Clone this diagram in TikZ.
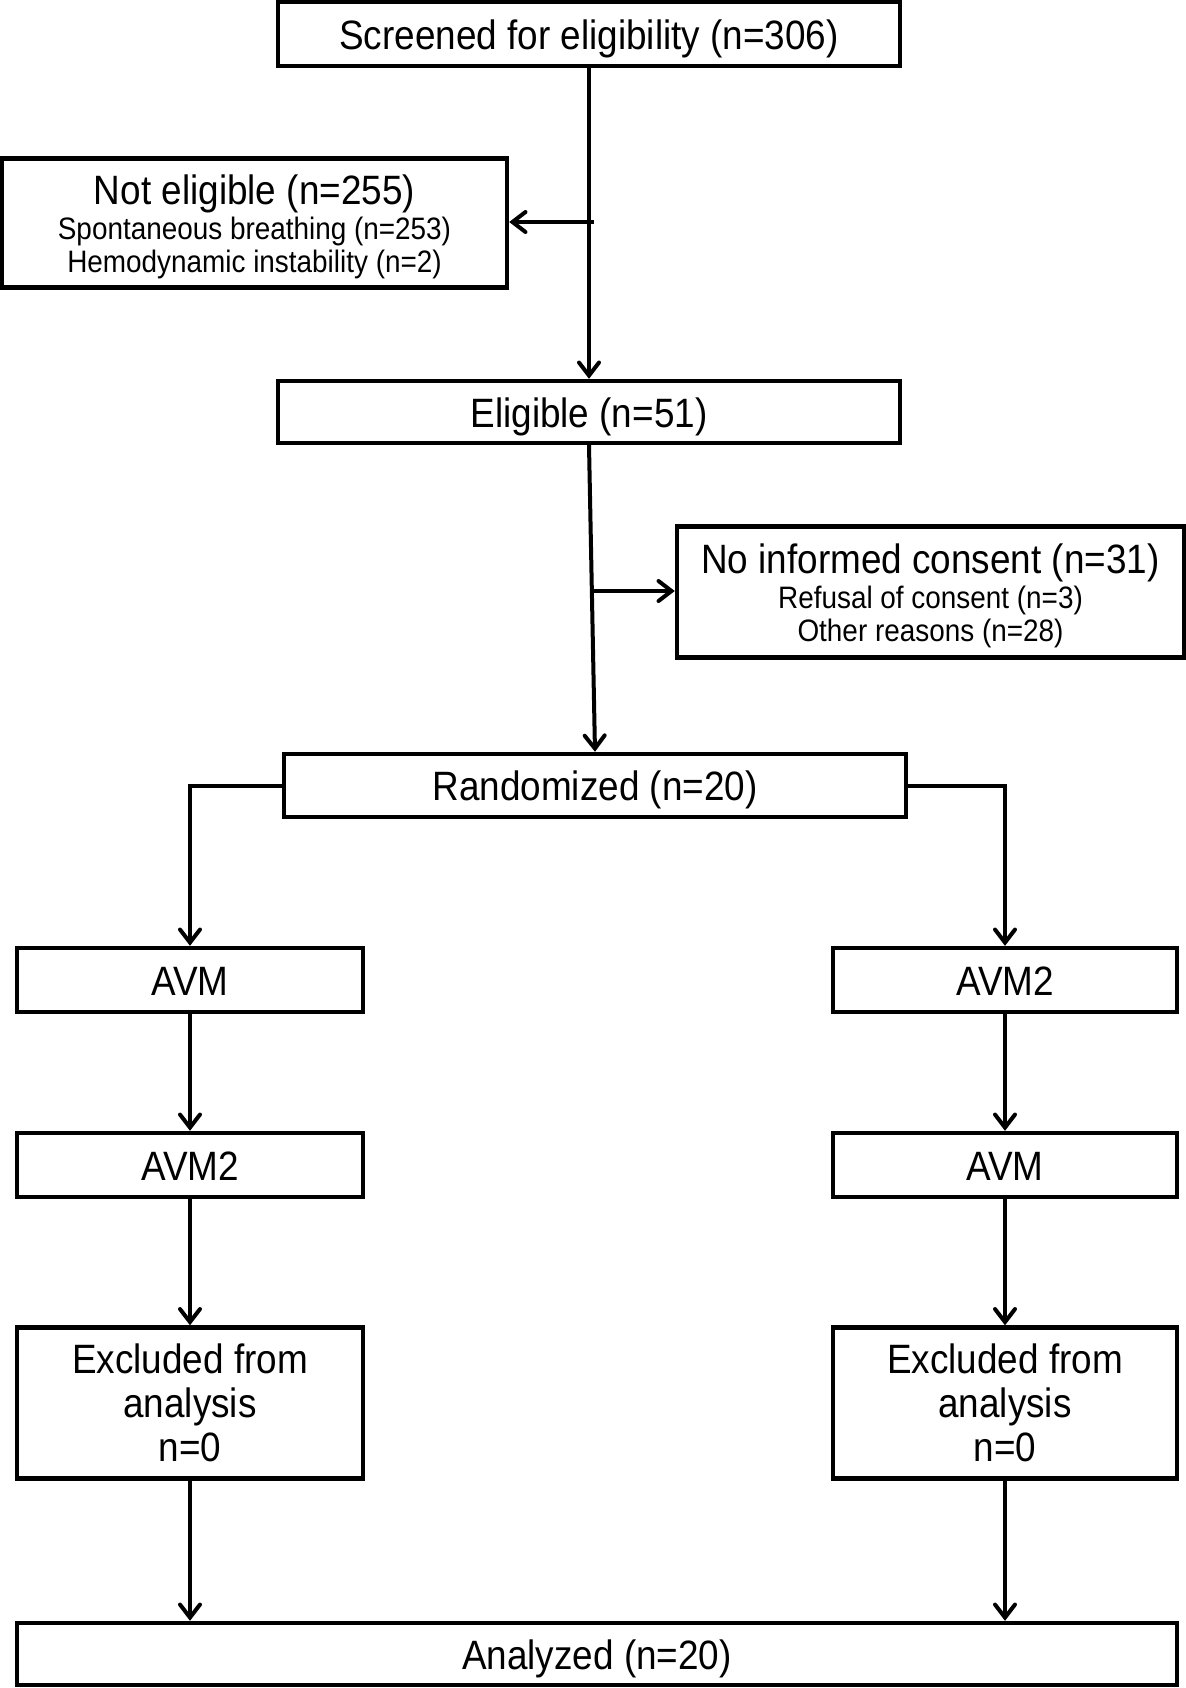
\documentclass[tikz,border=0pt]{standalone}
\usepackage{fontspec}
\setmainfont{Liberation Sans}[FakeStretch=0.9]
\usetikzlibrary{arrows.meta}
\newcommand{\bigtxt}{\fontsize{20.5pt}{22pt}\selectfont}
\newcommand{\smtxt}{\fontsize{15.5pt}{16.5pt}\selectfont}
\begin{document}
\begin{tikzpicture}[x=0.5pt,y=-0.5pt,
  box/.style={draw, line width=2.2pt, inner sep=0pt, align=center, font=\bigtxt},
  one/.style={text height=15pt, text depth=0pt},
  arw/.style={line width=2pt, -{Straight Barb[length=6.5pt,width=10pt,line cap=round]}},
  ln/.style={line width=2pt}]
\useasboundingbox (0,0) rectangle (1186,1688);
\node[box, one, minimum width=311pt, minimum height=32pt] (scr) at (589,34) {Screened for eligibility (n=306)};
\node[box, minimum width=252.5pt, minimum height=64.5pt, font=\smtxt] (ne) at (254.5,223)
  {{\bigtxt\rule{0pt}{18.6pt}Not eligible (n=255)}\\[1pt]Spontaneous breathing (n=253)\\Hemodynamic instability (n=2)};
\node[box, one, minimum width=311pt, minimum height=31pt] (elig) at (589,412) {Eligible (n=51)};
\node[box, minimum width=253.5pt, minimum height=65.5pt, font=\smtxt] (nic) at (930.5,592)
  {{\bigtxt\rule{0pt}{18.8pt}No informed consent (n=31)}\\[1pt]Refusal of consent (n=3)\\Other reasons (n=28)};
\node[box, one, minimum width=311pt, minimum height=31.5pt] (rand) at (595,785.5) {Randomized (n=20)};
\node[box, one, minimum width=173pt, minimum height=32pt] (l1) at (190,980) {AVM};
\node[box, one, minimum width=172pt, minimum height=32pt] (r1) at (1005,980) {AVM2};
\node[box, one, minimum width=173pt, minimum height=32pt] (l2) at (190,1165) {AVM2};
\node[box, one, minimum width=172pt, minimum height=32pt] (r2) at (1005,1165) {AVM};
\node[box, minimum width=173pt, minimum height=75.5pt, font=\fontsize{20.5pt}{22pt}\selectfont] (l3) at (190,1403) {Excluded from\\analysis\\n=0};
\node[box, minimum width=172pt, minimum height=75.5pt, font=\fontsize{20.5pt}{22pt}\selectfont] (r3) at (1005,1403) {Excluded from\\analysis\\n=0};
\node[box, one, minimum width=580pt, minimum height=31pt] (ana) at (597,1654) {Analyzed (n=20)};
\coordinate (b1) at (594,222);
\coordinate (b2) at (594,591);
\draw[arw] (scr.south) -- (elig.north);
\draw[ln] (scr.south |- b1) -- (b1);
\draw[arw] (b1) -- (b1 -| ne.east);
\draw[arw] (elig.south) -- (rand.north);
\draw[arw] (b2) -- (b2 -| nic.west);
\draw[arw] (rand.west) -| (l1.north);
\draw[arw] (rand.east) -| (r1.north);
\draw[arw] (l1.south) -- (l2.north);
\draw[arw] (r1.south) -- (r2.north);
\draw[arw] (l2.south) -- (l3.north);
\draw[arw] (r2.south) -- (r3.north);
\draw[arw] (l3.south) -- (l3.south |- ana.north);
\draw[arw] (r3.south) -- (r3.south |- ana.north);
\end{tikzpicture}
\end{document}
